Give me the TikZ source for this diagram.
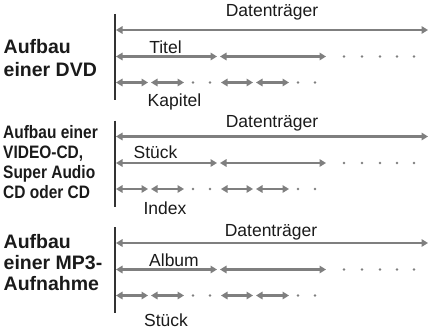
\documentclass[tikz,border=0pt]{standalone}
\usepackage{fontspec}
\setmainfont{Liberation Sans}
\newfontfamily\condfont{Liberation Sans}[FakeStretch=0.86]
\usetikzlibrary{arrows.meta}

\definecolor{bargray}{HTML}{7F7F7F}
\definecolor{linegray}{HTML}{333333}
\definecolor{textgray}{HTML}{1A1A1A}

\begin{document}
\begin{tikzpicture}[x=1pt,y=-1pt,
    bar/.style={draw=bargray, line width=2.6pt,
      {Triangle[length=6.5pt,width=7.5pt]}-{Triangle[length=6.5pt,width=7.5pt]}},
    axis/.style={draw=linegray, line width=1.4pt},
    dot/.style={fill=bargray},
    lbl/.style={text=textgray, font=\fontsize{17.5}{20}\selectfont, inner sep=0pt, anchor=base},
    head/.style={text=textgray, font=\fontsize{19.5}{23}\selectfont\bfseries, inner sep=0pt, anchor=base west},
    headc/.style={text=textgray, font=\fontsize{18}{20}\selectfont\condfont\bfseries, inner sep=0pt, anchor=base west}]
    \def\lft{116}   % left end of all bars
    \def\rgt{428}   % right end of the carrier bar
    \def\mid{26.5}  % offset of the second row
    \def\low{52.5}  % offset of the third row

    \useasboundingbox (0,0) rectangle (428,329);

    % Bars of the three blocks
    \foreach \b in {30,136.5,243} {
        \draw[axis] (115,\b-16) -- (115,\b+70);
        \draw[bar] (\lft,\b) -- (\rgt,\b);
        \draw[bar] (\lft,\b+\mid) -- (217,\b+\mid);
        \draw[bar] (220,\b+\mid) -- (326,\b+\mid);
        \foreach \x in {344,362,380,397,414}
            \fill[dot] (\x,\b+\mid) circle (1.3pt);
        \foreach \s in {0,105} {
            \draw[bar] (\lft+\s,\b+\low) -- (148+\s,\b+\low);
            \draw[bar] (151+\s,\b+\low) -- (184+\s,\b+\low);
            \fill[dot] (193+\s,\b+\low) circle (1.3pt);
            \fill[dot] (210+\s,\b+\low) circle (1.3pt);
        }
    }

    % Labels on the bars
    \node[lbl] (dt1) at (272,17) {Datenträger};
    \node[lbl] (dt2) at (272,127) {Datenträger};
    \node[lbl] (dt3) at (271,236) {Datenträger};
    \node[lbl] (titel) at (165.5,53) {Titel};
    \node[lbl] (stueck1) at (155.5,158) {Stück};
    \node[lbl] (album) at (174,266) {Album};
    \node[lbl] (kapitel) at (174.5,106) {Kapitel};
    \node[lbl] (index) at (165,214) {Index};
    \node[lbl] (stueck2) at (166,326) {Stück};

    % Headings on the left
    \foreach \t/\yy [count=\i] in {Aufbau/53, einer DVD/76}
        \node[head] (dvd\i) at (3.5,\yy) {\t};
    \foreach \t/\yy [count=\i] in {Aufbau einer/138, {VIDEO-CD,}/158, Super Audio/178, CD oder CD/198}
        \node[headc] (cd\i) at (3,\yy) {\t};
    \foreach \t/\yy [count=\i] in {Aufbau/248, einer MP3-/269, Aufnahme/290}
        \node[head] (mp\i) at (3.5,\yy) {\t};
\end{tikzpicture}
\end{document}
